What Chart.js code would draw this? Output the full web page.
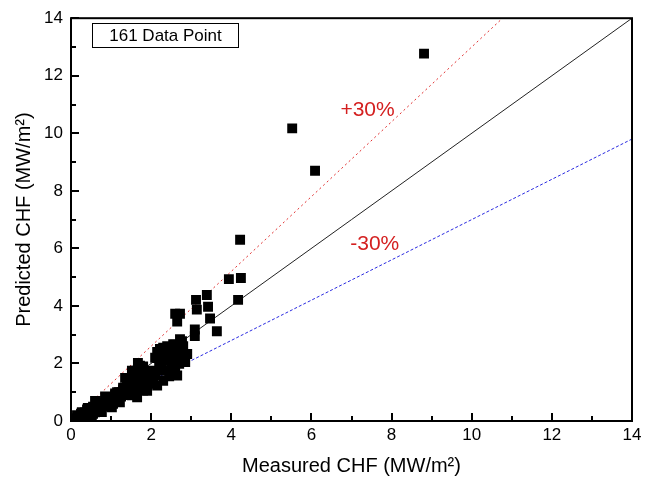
<!DOCTYPE html>
<html>
<head>
<meta charset="utf-8">
<script src="https://cdn.jsdelivr.net/npm/chart.js@4.4.1/dist/chart.umd.min.js"></script>
<style>
  html, body { margin: 0; padding: 0; background: #fff; }
  #wrap { width: 654px; height: 494px; }
</style>
</head>
<body>
<div id="wrap"><canvas id="chf-chart" width="654" height="494"></canvas></div>
<script>
// measured vs predicted CHF
var measured = [
  0.05, 0.1, 0.15, 0.2, 0.25, 0.3, 0.35, 0.4, 0.45, 0.5, 0.55, 0.6, 0.65, 0.7, 0.75, 0.8, 0.85, 0.9, 0.95, 1.0,
  1.05, 1.1, 1.15, 1.2, 1.25, 1.3, 1.35, 1.4, 1.45, 1.5, 1.5, 1.55, 1.6, 1.6, 1.65, 1.7, 1.7, 1.75, 1.8, 1.8,
  1.85, 1.9, 1.95, 2.0, 0.27, 0.3, 0.42, 0.52, 0.65, 0.77, 0.9, 1.02, 1.1, 1.22, 1.3, 1.47, 1.52, 1.6, 1.72, 1.77,
  1.85, 1.67, 1.52, 1.9, 1.4, 1.72, 1.97, 1.47, 1.8, 1.3, 1.65, 2.05, 2.1, 2.15, 2.17, 2.2, 2.22, 2.25, 2.3, 2.3,
  2.35, 2.4, 2.4, 2.45, 2.5, 2.5, 2.55, 2.55, 2.6, 2.6, 2.65, 2.65, 2.7, 2.72, 2.75, 2.8, 2.85, 2.9, 2.22, 2.15,
  2.3, 2.45, 2.6, 2.72, 2.77, 2.65, 2.6, 2.72, 3.09, 3.09, 3.14, 3.12, 3.39, 3.42, 3.47, 3.64, 3.94, 4.17, 4.24, 4.22,
  5.52, 6.09, 8.81, 0.1, 0.2, 0.35, 0.55, 0.6, 0.85, 1.0, 1.15, 1.35, 1.2, 1.4, 1.55, 2.0, 2.1, 2.35, 2.5, 2.7, 2.8
];
var predicted = [
  0.05, 0.1, 0.2, 0.1, 0.25, 0.15, 0.3, 0.4, 0.2, 0.35, 0.5, 0.3, 0.45, 0.6, 0.4, 0.55, 0.7, 0.5, 0.65, 0.8,
  0.6, 0.9, 0.75, 1.0, 0.85, 1.1, 0.9, 1.25, 1.05, 1.4, 0.95, 1.2, 1.55, 1.05, 1.3, 1.75, 1.15, 1.45, 1.9, 1.25,
  1.6, 1.05, 1.4, 1.75, 0.31, 0.03, 0.45, 0.14, 0.62, 0.31, 0.79, 0.48, 0.96, 0.65, 1.16, 1.4, 0.89, 1.75, 1.92, 1.23,
  1.58, 2.02, 1.75, 1.64, 1.47, 1.4, 1.3, 1.13, 1.06, 0.96, 0.82, 1.3, 1.6, 1.23, 2.19, 1.9, 2.5, 2.05, 1.4, 2.3,
  1.75, 2.09, 2.6, 1.55, 2.25, 1.9, 2.67, 2.1, 2.4, 1.75, 1.58, 2.2, 1.99, 2.45, 2.15, 2.33, 2.05, 2.33, 1.75, 2.4,
  2.55, 2.4, 2.65, 2.84, 2.77, 3.46, 3.73, 3.73, 3.18, 2.95, 3.87, 4.21, 4.38, 3.97, 3.56, 3.12, 4.93, 4.21, 4.97, 6.30,
  10.17, 8.70, 12.77, 0.0, 0.02, 0.15, 0.25, 0.7, 0.85, 0.6, 1.0, 1.5, 0.75, 1.0, 1.65, 1.5, 2.2, 2.35, 1.6, 2.3, 2.6
];

var axisMax = 14
var tickStep = 2
var refSlopes = [1, 1.3, 0.7]
var refColors = ["#222222", "#e03030", "#2a2ae0"]
var refDash = [[], [2, 3], [3, 2]]
var bandLabels = ["+30%", "-30%"]
var bandLabelPos = [[7.4, 10.8], [7.58, 6.13]]

var points = measured.map(function (m, i) { return { x: m, y: predicted[i] } })

function refLine(slope) {
  var xEnd = Math.min(axisMax, axisMax / slope)
  return [{ x: 0, y: 0 }, { x: xEnd, y: xEnd * slope }]
}

var lineSets = refSlopes.map(function (s, i) {
  return {
    type: 'line',
    data: refLine(s),
    borderColor: refColors[i],
    borderWidth: 1,
    borderDash: refDash[i],
    pointRadius: 0,
    fill: false,
    order: 2
  }
})

// inward ticks, frame, text annotations
var decor = {
  id: 'decor',
  afterDraw: function (chart) {
    var ctx = chart.ctx
    var a = chart.chartArea
    var xs = chart.scales.x, ys = chart.scales.y
    ctx.save()
    ctx.strokeStyle = '#000'
    ctx.lineWidth = 2
    for (var v = 0; v <= axisMax; v++) {
      var len = v % tickStep === 0 ? 8 : 5
      var px = Math.round(xs.getPixelForValue(v))
      ctx.beginPath(); ctx.moveTo(px, a.bottom); ctx.lineTo(px, a.bottom - len); ctx.stroke()
      var py = Math.round(ys.getPixelForValue(v))
      ctx.beginPath(); ctx.moveTo(a.left, py); ctx.lineTo(a.left + len, py); ctx.stroke()
    }
    ctx.strokeRect(a.left, a.top, a.right - a.left, a.bottom - a.top)

    ctx.fillStyle = '#d42020'
    ctx.font = '21px Arial, "Liberation Sans"'
    ctx.textAlign = 'center'
    ctx.textBaseline = 'middle'
    bandLabels.forEach(function (t, i) {
      ctx.fillText(t, xs.getPixelForValue(bandLabelPos[i][0]), ys.getPixelForValue(bandLabelPos[i][1]))
    })

    ctx.lineWidth = 1
    ctx.strokeStyle = '#000'
    ctx.fillStyle = '#fff'
    ctx.fillRect(92.5, 23.5, 146, 24)
    ctx.strokeRect(92.5, 23.5, 146, 24)
    ctx.fillStyle = '#000'
    ctx.font = '17px Arial, "Liberation Sans"'
    ctx.textAlign = 'center'
    ctx.fillText('161 Data Point', 165.5, 36)
    ctx.restore()
  }
}

new Chart(document.getElementById("chf-chart"), {
  type: 'scatter',
  data: {
    datasets: [{
      data: points,
      pointStyle: 'rect',
      pointRadius: 7,
      pointBorderWidth: 0,
      backgroundColor: '#000',
      borderColor: '#000',
      order: 1
    }].concat(lineSets)
  },
  options: {
    responsive: false,
    animation: false,
    layout: { padding: { top: 12, right: 22, left: 8, bottom: 12 } },
    plugins: { legend: { display: false }, tooltip: { enabled: false } },
    scales: {
      x: {
        min: 0, max: axisMax,
        grid: { display: false, drawTicks: false },
        border: { display: false },
        ticks: { stepSize: tickStep, color: '#000', padding: 4, font: { family: 'Arial, "Liberation Sans"', size: 17 } },
        title: { display: true, text: 'Measured CHF (MW/m\u00B2)', color: '#000', padding: { top: 8 }, font: { family: 'Arial, "Liberation Sans"', size: 20 } },
        afterFit: function (s) { s.height = 61 }
      },
      y: {
        min: 0, max: axisMax,
        grid: { display: false, drawTicks: false },
        border: { display: false },
        ticks: { stepSize: tickStep, color: '#000', padding: 8, font: { family: 'Arial, "Liberation Sans"', size: 17 } },
        title: { display: true, text: 'Predicted CHF (MW/m\u00B2)', color: '#000', padding: { bottom: 4 }, font: { family: 'Arial, "Liberation Sans"', size: 20 } },
        afterFit: function (s) { s.width = 63 }
      }
    }
  },
  plugins: [decor]
});
</script>
</body>
</html>
